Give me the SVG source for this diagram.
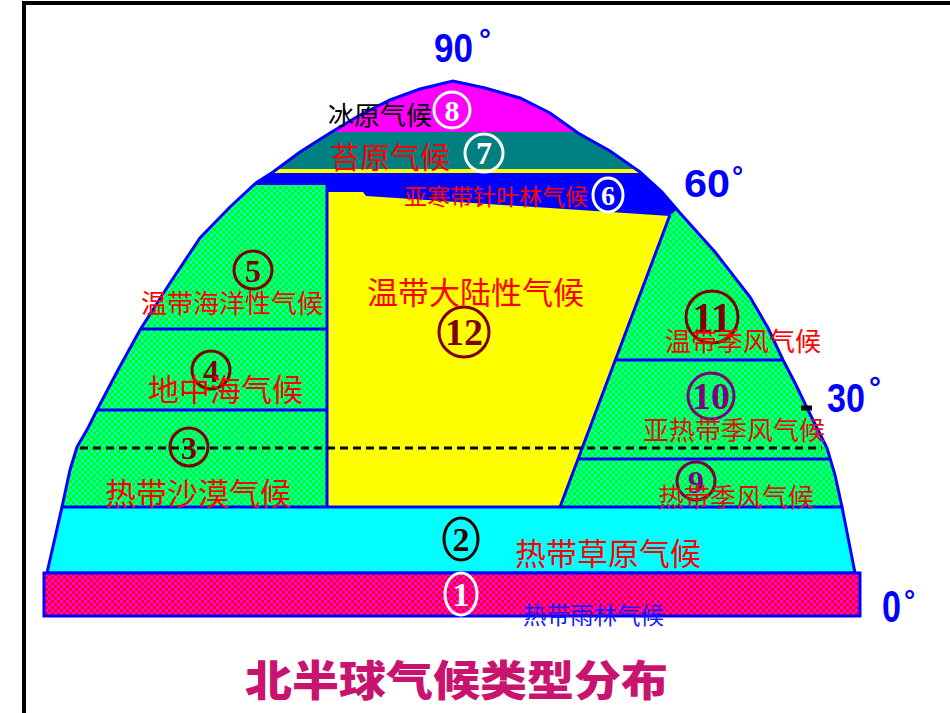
<svg xmlns="http://www.w3.org/2000/svg" width="950" height="713" viewBox="0 0 950 713">
<style>
.lbl{font-family:"Noto Sans CJK SC","Noto Sans",sans-serif;fill:#ff0000}
.deg{font-family:"Liberation Sans",Arial,sans-serif;font-weight:bold;fill:#0000ff}
.num{font-family:"Liberation Serif","Times New Roman",serif;font-weight:bold;text-anchor:middle}
.bl{stroke:#0000ff;stroke-width:3;fill:none}
</style>
<defs>
<pattern id="grn" width="6" height="6" patternUnits="userSpaceOnUse"><rect width="6" height="6" fill="#00ff00"/><rect width="3" height="3" fill="#00ffcc"/><rect x="3" y="3" width="3" height="3" fill="#00ffcc"/></pattern>
<pattern id="pnk" width="6" height="6" patternUnits="userSpaceOnUse"><rect width="6" height="6" fill="#ff0000"/><rect width="3" height="3" fill="#ff00ff"/><rect x="3" y="3" width="3" height="3" fill="#ff00ff"/></pattern>
<clipPath id="dome"><path id="domep" d="M62,507 L70,470 L77,447 L88,428 L97,410 L118,370 L140,330 L170,283 L200,238 L230,207 L256,183 L273,172 L300,152 L330,133 L360,115 L390,100 L420,89 L453,81 L485,88 L520,98 L550,113 L578,133 L610,151 L640,172 L662,192 L680,213 L715,252 L750,297 L768,328 L783,360 L795,383 L808,410 L818,430 L827,448 L835,475 L842,507 Z"/></clipPath>
</defs>
<rect width="950" height="713" fill="#ffffff"/>
<g id="frame"><path d="M24,713 V3 H950" fill="none" stroke="#000" stroke-width="4"/></g>

<g id="regions" clip-path="url(#dome)">
<rect id="r8" x="0" y="0" width="950" height="132" fill="#ff00ff"/>
<rect id="r7" x="0" y="132" width="950" height="38" fill="#008080"/>
<rect x="0" y="169" width="950" height="4" fill="#ffff00"/>
<rect id="r6" x="0" y="173" width="950" height="70" fill="#0000ff"/>
<rect id="r345" x="0" y="185" width="327" height="330" fill="url(#grn)"/>
<polygon id="r12" points="328,192 363,192 366,196 580,210 670,216 560,507 328,507" fill="#ffff00"/>
<polygon id="r91011" points="668,217 680,207 900,207 900,510 560,510" fill="url(#grn)"/>
</g>

<g id="connectors">
<line class="bl" x1="327" y1="184" x2="327" y2="507"/>
<line class="bl" x1="140" y1="329" x2="327" y2="329"/>
<line class="bl" x1="97" y1="410" x2="327" y2="410"/>
<line class="bl" x1="617" y1="360" x2="783" y2="360"/>
<line class="bl" x1="578" y1="459" x2="830" y2="459"/>
<line class="bl" x1="670" y1="215" x2="560" y2="507"/>
<line x1="80" y1="448" x2="822" y2="448" stroke="#000" stroke-width="3" stroke-dasharray="8,5"/>
<path class="bl" d="M62,507 L70,470 L77,447 L88,428 L97,410 L118,370 L140,330 L170,283 L200,238 L230,207 L256,183 L273,172 L300,152 L330,133 L360,115 L390,100 L420,89 L453,81 L485,88 L520,98 L550,113 L578,133 L610,151 L640,172 L662,192 L680,213 L715,252 L750,297 L768,328 L783,360 L795,383 L808,410 L818,430 L827,448 L835,475 L842,507"/>
<line x1="801" y1="408" x2="812" y2="408" stroke="#000" stroke-width="5"/>
</g>

<g id="r2"><polygon points="62,507 842,507 855,573 47,573" fill="#00ffff" stroke="#0000ff" stroke-width="3"/></g>
<g id="r1"><rect x="44" y="573" width="816" height="43" fill="url(#pnk)" stroke="#0000ff" stroke-width="3"/></g>

<g id="n8"><circle cx="452" cy="110" r="18" fill="none" stroke="#fff" stroke-width="3"/><text class="num" x="452" y="121" font-size="30" fill="#fff">8</text>
<text class="lbl" x="328" y="125" font-size="26" style="fill:#000">冰原气候</text></g>
<g id="n7"><circle cx="484" cy="153" r="19" fill="none" stroke="#fff" stroke-width="3"/><text class="num" x="484" y="164" font-size="32" fill="#fff">7</text>
<text class="lbl" x="330" y="168" font-size="30">苔原气候</text></g>
<g id="n6"><ellipse cx="608" cy="195" rx="15" ry="17" fill="none" stroke="#fff" stroke-width="3"/><text class="num" x="608" y="205" font-size="28" fill="#fff">6</text>
<text class="lbl" x="404" y="205" font-size="23">亚寒带针叶林气候</text></g>
<g id="n5"><circle cx="253" cy="270" r="19" fill="none" stroke="#800000" stroke-width="3"/><text class="num" x="253" y="282" font-size="32" fill="#800000" font-weight="normal">5</text>
<text class="lbl" x="141" y="313" font-size="26">温带海洋性气候</text></g>
<g id="n4"><circle cx="211" cy="370" r="19" fill="none" stroke="#800000" stroke-width="3"/><text class="num" x="211" y="382" font-size="32" fill="#800000" font-weight="normal">4</text>
<text class="lbl" x="148" y="401" font-size="31">地中海气候</text></g>
<g id="n3"><circle cx="189" cy="447" r="19" fill="none" stroke="#800000" stroke-width="3"/><text class="num" x="189" y="459" font-size="32" fill="#800000" font-weight="normal">3</text>
<text class="lbl" x="105" y="505" font-size="31">热带沙漠气候</text></g>
<g id="n12"><circle cx="464" cy="332" r="25" fill="none" stroke="#800000" stroke-width="3"/><text class="num" x="464" y="345" font-size="38" fill="#800000">12</text>
<text class="lbl" x="367" y="304" font-size="31">温带大陆性气候</text></g>
<g id="n11"><circle cx="712" cy="317" r="26" fill="none" stroke="#800000" stroke-width="3"/><text class="num" x="712" y="332" font-size="42" fill="#800000">11</text>
<text class="lbl" x="665" y="351" font-size="26">温带季风气候</text></g>
<g id="n10"><circle cx="711" cy="396" r="23" fill="none" stroke="#800080" stroke-width="3"/><text class="num" x="711" y="409" font-size="38" fill="#800080">10</text>
<text class="lbl" x="643" y="440" font-size="26" style="fill:#e01010">亚热带季风气候</text></g>
<g id="n9"><circle cx="696" cy="481" r="19" fill="none" stroke="#800040" stroke-width="3"/><text class="num" x="696" y="493" font-size="32" fill="#800080">9</text>
<text class="lbl" x="658" y="507" font-size="26" style="fill:#e01010">热带季风气候</text></g>
<g id="n2"><ellipse cx="461" cy="539" rx="17" ry="21" fill="none" stroke="#200000" stroke-width="3"/><text class="num" x="461" y="551" font-size="34" fill="#300000">2</text>
<text class="lbl" x="515" y="565" font-size="31">热带草原气候</text></g>
<g id="n1"><ellipse cx="461" cy="594" rx="16" ry="21" fill="none" stroke="#fff" stroke-width="3"/><text class="num" x="461" y="606" font-size="34" fill="#fff">1</text>
<text class="lbl" x="523" y="624" font-size="23.5" style="fill:#1a1aff">热带雨林气候</text></g>

<g id="degrees">
<text class="deg" x="434" y="62" font-size="41" textLength="39" lengthAdjust="spacingAndGlyphs">90</text><text class="deg" x="479" y="50" font-size="30">°</text>
<text class="deg" x="684" y="197" font-size="38" textLength="46" lengthAdjust="spacingAndGlyphs">60</text><text class="deg" x="732" y="186" font-size="28">°</text>
<text class="deg" x="827" y="412" font-size="40" textLength="38" lengthAdjust="spacingAndGlyphs">30</text><text class="deg" x="869" y="398" font-size="30">°</text>
<text class="deg" x="882" y="622" font-size="44" textLength="19" lengthAdjust="spacingAndGlyphs">0</text><text class="deg" x="904" y="610" font-size="28">°</text>
</g>

<g id="title"><text x="245" y="696" font-size="42" textLength="423" lengthAdjust="spacingAndGlyphs" style="font-family:'Noto Sans CJK SC',sans-serif;font-weight:900;fill:#c8146e">北半球气候类型分布</text></g>
</svg>
